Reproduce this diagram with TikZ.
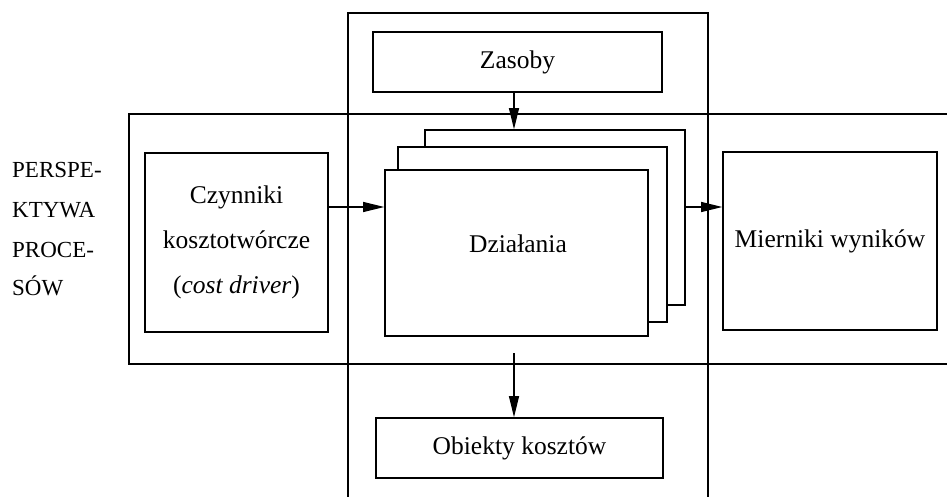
\documentclass[tikz,border=0pt]{standalone}
\usepackage{fontspec}
\setmainfont{Liberation Serif}
\usetikzlibrary{arrows.meta}
\tikzset{
  box/.style={draw, line width=1.6pt, inner sep=0pt, fill=white, align=center,
    font=\fontsize{25.5}{45}\selectfont},
  frame/.style={line width=1.8pt},
  arr/.style={line width=1.2pt, -{Triangle[length=21pt,width=10pt]}},
  side/.style={anchor=base west, inner sep=0pt, font=\fontsize{23}{27}\selectfont},
  txt/.style={inner sep=0pt, font=\fontsize{25.5}{30}\selectfont}
}
\begin{document}
\begin{tikzpicture}[x=1pt,y=-1pt]
\useasboundingbox (0,0) rectangle (947,497);
% frames
\draw[frame] (348,500) -- (348,13) -- (708,13) -- (708,500);
\draw[frame] (950,114) -- (129,114) -- (129,364) -- (950,364);
% boxes
\node[box, minimum width=289pt, minimum height=60pt] (zas) at (517.5,62) {Zasoby};
\node[box, minimum width=183pt, minimum height=179pt] (czyn) at (236.5,242.5)
  {Czynniki\\kosztotwórcze\\(\textit{cost driver})};
\node[box, minimum width=260pt, minimum height=175pt] (back) at (555,217.5) {};
\node[box, minimum width=269pt, minimum height=175pt] (mid) at (532.5,234.5) {};
\node[box, minimum width=263pt, minimum height=166pt] (front) at (516.5,253) {};
\node[txt, anchor=base] (dzial) at (518,252) {Działania};
\node[box, minimum width=214pt, minimum height=178pt] (mier) at (830,241) {Mierniki wyników};
\node[box, minimum width=287pt, minimum height=60pt] (obj) at (519.5,448) {Obiekty kosztów};
% side labels
\node[side] (l1) at (12,178) {PERSPE-};
\node[side] (l2) at (12,217) {KTYWA};
\node[side] (l3) at (12,257) {PROCE-};
\node[side] (l4) at (12,295) {SÓW};
% arrows
\coordinate (yarr) at (0,207);
\coordinate (xz) at (514,0);
\coordinate (dstart) at (514,353);
\draw[arr] (zas.south -| xz) -- (back.north -| xz);
\draw[arr] (czyn.east |- yarr) -- (front.west |- yarr);
\draw[arr] (back.east |- yarr) -- (mier.west |- yarr);
\draw[arr] (dstart) -- (obj.north -| dstart);
\end{tikzpicture}
\end{document}
